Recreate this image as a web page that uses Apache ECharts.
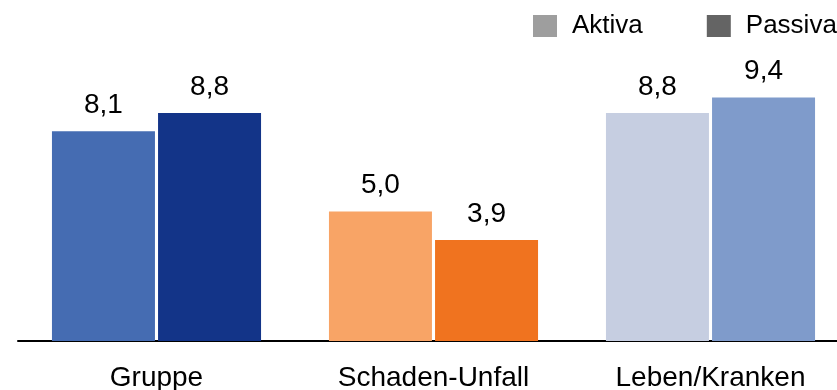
<!DOCTYPE html>
<html>
<head>
<meta charset="utf-8">
<script src="https://cdn.jsdelivr.net/npm/echarts@6/dist/echarts.min.js"></script>
<style>
  html, body { margin: 0; padding: 0; background: #fff; }
  #chart { width: 837px; height: 390px; }
</style>
</head>
<body>
<div id="chart"></div>
<script>
// Segments and their values
const categories = ['Gruppe', 'Schaden-Unfall', 'Leben/Kranken'];
const seriesNames = ['Aktiva', 'Passiva'];
const aktiva = [8.1, 5.0, 8.8];
const passiva = [8.8, 3.9, 9.4];

// Per-segment bar colours (Aktiva lighter, Passiva darker)
const aktivaColors = ['#456cb2', '#f8a466', '#c6cee1'];
const passivaColors = ['#133488', '#f0731f', '#7f9bcb'];
// Neutral swatches shown in the legend
const legendColors = ['#9e9e9e', '#646464'];

const FONT = '"Liberation Sans", Arial, sans-serif';

function fmt(v) {
  return v.toFixed(1).replace('.', ',');
}

function buildData(values, colors) {
  return values.map((v, i) => ({ value: v, itemStyle: { color: colors[i] } }));
}

const labelStyle = {
  show: true,
  position: 'top',
  distance: 12,
  fontFamily: FONT,
  fontSize: 28,
  color: '#000',
  formatter: p => fmt(p.value)
};

const chart = echarts.init(document.getElementById('chart'), null, { renderer: 'canvas' });

chart.setOption({
  animation: false,
  backgroundColor: '#fff',
  legend: {
    data: seriesNames,
    orient: 'horizontal',
    left: 528,
    top: 8,
    width: 600,
    itemWidth: 24,
    itemHeight: 22,
    itemGap: 64,
    icon: 'rect',
    textStyle: {
      fontFamily: FONT,
      fontSize: 26,
      color: '#000',
      padding: [0, 0, 0, 10]
    }
  },
  grid: {
    left: 18,
    width: 831,
    top: 82,
    bottom: 49,
    outerBoundsMode: 'none',
    containLabel: false
  },
  xAxis: {
    type: 'category',
    data: categories,
    axisLine: { show: true, lineStyle: { color: '#000', width: 2 } },
    axisTick: { show: false },
    axisLabel: {
      margin: 23,
      fontFamily: FONT,
      fontSize: 28,
      color: '#000'
    }
  },
  yAxis: {
    type: 'value',
    min: 0,
    max: 10,
    show: false,
    splitLine: { show: false }
  },
  series: [
    {
      name: seriesNames[0],
      type: 'bar',
      color: legendColors[0],
      barWidth: 103,
      barGap: '3%',
      data: buildData(aktiva, aktivaColors),
      label: labelStyle
    },
    {
      name: seriesNames[1],
      type: 'bar',
      color: legendColors[1],
      barWidth: 103,
      barGap: '3%',
      data: buildData(passiva, passivaColors),
      label: labelStyle
    }
  ]
});
</script>
</body>
</html>
